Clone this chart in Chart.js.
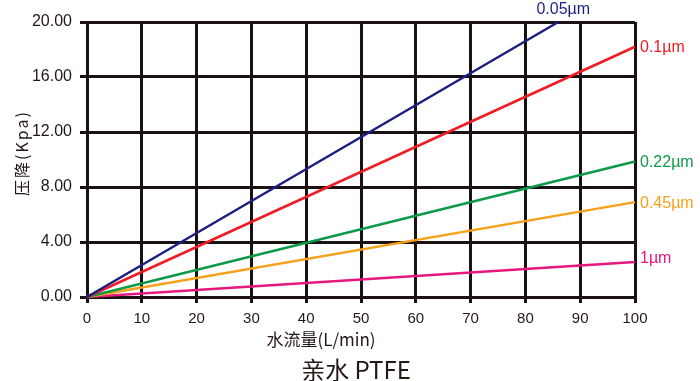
<!DOCTYPE html>
<html>
<head>
<meta charset="utf-8">
<script src="https://cdn.jsdelivr.net/npm/chart.js@4"></script>
<style>
  html, body { margin: 0; padding: 0; background: #fff; }
  #wrap { width: 700px; height: 381px; }
</style>
</head>
<body>
<div id="wrap"><canvas id="dpChart" width="700" height="381"></canvas></div>
<script>
// pore sizes and the end points of each straight line (flow L/min, drop Kpa)
const sizes = ['0.05µm', '0.1µm', '0.22µm', '0.45µm', '1µm'];
const flowEnd = [86, 100, 100, 100, 100];
const dropEnd = [20.0, 18.2, 9.85, 6.9, 2.55];
const colors = ['#1b1f80', '#ee1c24', '#0c9a48', '#f7a11a', '#e6177f'];
const xTicks = [0, 10, 20, 30, 40, 50, 60, 70, 80, 90, 100];
const yTicks = [0, 4, 8, 12, 16, 20];

const gridCol = '#1a1212';
const txtCol = '#231815';
const latin = '"Liberation Sans", Arial, sans-serif';

// line labels + axis titles, drawn on the canvas after the datasets
const labelPlugin = {
    id: 'labels',
    afterDatasetsDraw(c) {
        const g = c.ctx;
        g.save();
        g.font = '16px ' + latin;
        c.data.datasets.forEach((ds, i) => {
            const pts = c.getDatasetMeta(i).data;
            const p = pts[pts.length - 1];
            g.fillStyle = colors[i];
            g.textBaseline = 'middle';
            if (i === 0) {
                g.textAlign = 'center';
                g.fillText(sizes[i], p.x + 5, p.y - 12);
            } else {
                g.textAlign = 'left';
                g.fillText(sizes[i], p.x + 5, p.y + (i === 4 ? -3 : 1));
            }
        });

        // y title
        g.fillStyle = txtCol;
        g.font = '16px "Noto Sans CJK SC", sans-serif';
        g.letterSpacing = '2px';
        g.translate(22, 153);
        g.rotate(-Math.PI / 2);
        g.textAlign = 'center';
        g.textBaseline = 'middle';
        g.fillText('压降(Kpa)', 0, 0);
        g.setTransform(1, 0, 0, 1, 0, 0);
        g.letterSpacing = '0px';

        // x title
        g.font = '17px "Noto Sans CJK SC", sans-serif';
        g.fillText('水流量(L/min)', 321, 340);

        // main title
        g.font = '24px "Noto Sans CJK SC", sans-serif';
        g.fillText('亲水 PTFE', 356, 370);
        g.restore();
    }
};

const ctx = document.getElementById('dpChart').getContext('2d');
const chart = new Chart(ctx, {
    type: 'line',
    data: {
        datasets: sizes.map((s, i) => ({
            label: s,
            data: [{ x: 0, y: 0 }, { x: flowEnd[i], y: dropEnd[i] }],
            borderColor: colors[i],
            borderWidth: 2.5,
            pointRadius: 0,
            fill: false,
            clip: false
        }))
    },
    options: {
        responsive: false,
        animation: false,
        layout: { padding: { left: 0, right: 65, top: 22, bottom: 0 } },
        plugins: { legend: { display: false }, tooltip: { enabled: false } },
        scales: {
            x: {
                type: 'linear',
                min: 0, max: 100,
                afterBuildTicks: s => { s.ticks = xTicks.map(v => ({ value: v })); },
                afterFit: s => { s.height = 84; },
                grid: { color: gridCol, lineWidth: 3, tickLength: 6, drawTicks: true },
                border: { color: gridCol, width: 3 },
                ticks: { color: txtCol, padding: 7, maxRotation: 0,
                         font: { size: 15, family: latin } }
            },
            y: {
                min: 0, max: 20,
                afterBuildTicks: s => { s.ticks = yTicks.map(v => ({ value: v })); },
                afterFit: s => { s.width = 87; },
                grid: { color: gridCol, lineWidth: 3, tickLength: 7, drawTicks: true },
                border: { color: gridCol, width: 3 },
                ticks: { color: txtCol, padding: 8, callback: v => v.toFixed(2),
                         font: { size: 16, family: latin } }
            }
        }
    },
    plugins: [labelPlugin]
});
</script>
</body>
</html>
